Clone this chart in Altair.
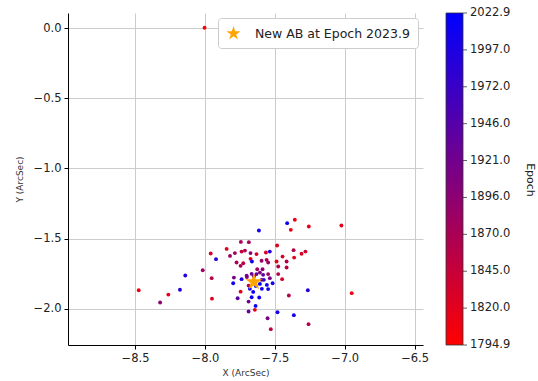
import altair as alt
import pandas as pd

# ---- data ----
x_arcsec = [
    -7.357, -7.412, -7.257, -7.386, -7.024, -7.614, -7.743, -7.686, -7.484, -7.959,
    -7.845, -7.786, -7.738, -7.714, -7.674, -7.631, -7.564, -7.536, -7.445, -7.366,
    -7.309, -7.281, -7.362, -7.921, -7.821, -7.674, -7.664, -7.774, -7.726, -7.745,
    -7.595, -7.559, -7.548, -7.488, -7.416, -7.476, -7.416, -7.588, -7.626, -8.016,
    -8.141, -7.952, -7.793, -7.738, -7.702, -7.666, -7.631, -7.607, -7.584, -7.548,
    -7.476, -7.516, -7.448, -7.798, -7.688, -7.745, -7.636, -7.593, -7.557, -7.607,
    -7.579, -7.679, -7.548, -7.655, -7.666, -7.612, -7.766, -7.688, -7.264, -7.400,
    -8.179, -8.262, -8.474, -8.321, -7.950, -6.950, -7.638, -7.643, -7.688, -7.481,
    -7.364, -7.552, -7.259, -7.529, -8.003, -7.595, -7.536, -7.700, -7.650,
]
y_arcsec = [
    -1.366, -1.390, -1.414, -1.438, -1.407, -1.443, -1.524, -1.526, -1.550, -1.607,
    -1.574, -1.604, -1.593, -1.586, -1.604, -1.611, -1.600, -1.593, -1.629, -1.583,
    -1.609, -1.593, -1.636, -1.647, -1.624, -1.645, -1.664, -1.671, -1.676, -1.695,
    -1.659, -1.652, -1.671, -1.664, -1.664, -1.700, -1.707, -1.719, -1.719, -1.726,
    -1.764, -1.783, -1.779, -1.790, -1.766, -1.752, -1.754, -1.743, -1.759, -1.754,
    -1.754, -1.819, -1.790, -1.819, -1.836, -1.879, -1.838, -1.859, -1.831, -1.824,
    -1.795, -1.859, -1.861, -1.881, -1.919, -1.921, -1.926, -1.950, -1.869, -1.907,
    -1.866, -1.900, -1.869, -1.957, -1.929, -1.890, -1.981, -2.009, -2.021, -2.026,
    -2.047, -2.069, -2.111, -2.147, 0.005, -1.795, -1.783, -1.775, -1.770,
]
epoch = [
    1815, 2010, 1820, 1812, 1818, 2005, 1870, 1875, 1825, 1830,
    1822, 1880, 1850, 1860, 1900, 1835, 1828, 1995, 1826, 1860,
    1830, 1838, 1820, 1985, 1885, 1815, 2015, 1868, 1855, 1872,
    1890, 1865, 1878, 1812, 1862, 1866, 1858, 1895, 1880, 1885,
    1990, 1858, 1915, 2000, 1920, 1925, 1930, 1910, 1935, 1880,
    1860, 2000, 1830, 2008, 1862, 1822, 2018, 2012, 2005, 2020,
    1990, 2010, 2002, 2015, 2008, 2012, 1945, 1925, 1985, 1860,
    1995, 1820, 1812, 1895, 1820, 1812, 2010, 1818, 1930, 2005,
    2008, 1910, 1865, 1855, 1800, 1940, 1915, 1905, 1912,
]

star_x = [-7.650]
star_y = [-1.810]
star_label = ["New AB at Epoch 2023.9"]

x_ticks = [-8.5, -8.0, -7.5, -7.0, -6.5]
y_ticks = [-2.0, -1.5, -1.0, -0.5, 0.0]
epoch_min, epoch_max = 1794.9, 2022.9
cbar_ticks = [1794.9, 1820.23, 1845.57, 1870.9, 1896.23, 1921.57, 1946.9, 1972.23, 1997.57, 2022.9]
cbar_labels = ["1794.9", "1820.0", "1845.0", "1870.0", "1896.0", "1921.0",
               "1946.0", "1972.0", "1997.0", "2022.9"]

FONT = "DejaVu Sans"
STAR = ("M0,-1 L0.2245,-0.309 L0.951,-0.309 L0.363,0.118 L0.588,0.809 "
        "L0,0.382 L-0.588,0.809 L-0.363,0.118 L-0.951,-0.309 L-0.2245,-0.309 Z")

pts = pd.DataFrame({"x": x_arcsec, "y": y_arcsec, "epoch": epoch})
star = pd.DataFrame({"x": star_x, "y": star_y, "label": star_label})
cbar = pd.DataFrame({"v": cbar_ticks, "lab": cbar_labels})

xscale = alt.Scale(domain=[-8.98, -6.44], nice=False, zero=False)
yscale = alt.Scale(domain=[-2.26, 0.11], nice=False, zero=False)

xaxis = alt.Axis(values=x_ticks, format=".1f", title="X (ArcSec)", titlePadding=5)
yaxis = alt.Axis(values=y_ticks, format=".1f", title="Y (ArcSec)", titlePadding=9)

scatter = alt.Chart(pts).mark_circle(size=15, opacity=1).encode(
    x=alt.X("x:Q", scale=xscale, axis=xaxis),
    y=alt.Y("y:Q", scale=yscale, axis=yaxis),
    color=alt.Color(
        "epoch:Q",
        scale=alt.Scale(domain=[epoch_min, epoch_max], range=["#ff0000", "#0000ff"],
                        interpolate="rgb"),
        legend=alt.Legend(
            title=None, orient="none", legendX=378, legendY=0, direction="vertical",
            gradientLength=332, gradientThickness=17, values=[epoch_min, epoch_max],
            labelExpr="''", labelFontSize=1, gradientStrokeColor="#333",
            gradientStrokeWidth=0.8, padding=0,
        ),
    ),
)

star_layer = alt.Chart(star).mark_point(filled=True, size=320, opacity=1,
                                         color="#FFA500").encode(
    x=alt.X("x:Q", scale=xscale, axis=xaxis),
    y=alt.Y("y:Q", scale=yscale, axis=None),
    shape=alt.Shape(
        "label:N",
        scale=alt.Scale(domain=star_label, range=[STAR]),
        legend=alt.Legend(
            title=None, orient="top-right", offset=5, fillColor="white",
            strokeColor="#cccccc", cornerRadius=3, padding=8, labelFontSize=12.5,
            labelFont=FONT, labelColor="#222", labelOffset=14, symbolSize=220,
            symbolFillColor="#FFA500", symbolStrokeColor="#FFA500",
            symbolStrokeWidth=0, symbolOpacity=1,
        ),
    ),
)

cscale = alt.Scale(domain=[epoch_min, epoch_max], nice=False, zero=False)
cbar_ticks_layer = alt.Chart(cbar).mark_rule(color="#333", strokeWidth=0.8).encode(
    x=alt.value(395), x2=alt.value(399),
    y=alt.Y("v:Q", scale=cscale, axis=None),
)
cbar_text_layer = alt.Chart(cbar).mark_text(
    align="left", baseline="middle", fontSize=11.5, font=FONT, color="#222"
).encode(
    x=alt.value(402),
    y=alt.Y("v:Q", scale=cscale, axis=None),
    text="lab:N",
)
cbar_layer = alt.layer(cbar_ticks_layer, cbar_text_layer)

epoch_title = alt.Chart(pd.DataFrame({"t": ["Epoch"]})).mark_text(
    angle=90, align="center", baseline="middle", fontSize=11, font=FONT, color="#222"
).encode(x=alt.value(462), y=alt.value(167), text="t:N")

chart = (
    alt.layer(scatter, star_layer, cbar_layer, epoch_title)
    .resolve_scale(shape="independent", y="independent")
    .properties(
        width=355, height=332,
        autosize=alt.AutoSizeParams(type="none"),
        padding={"left": 68, "top": 13, "right": 115, "bottom": 36},
    )
    .configure_view(stroke=None)
    .configure_axis(
        domainColor="black", domainWidth=1, tickColor="black", tickSize=4, tickWidth=1,
        labelFontSize=11.5, labelFont=FONT, labelColor="#222", labelPadding=3,
        titleFontSize=9, titleFont=FONT, titleColor="#333", titleFontWeight="normal",
        gridColor="#cccccc", gridWidth=1,
    )
)

chart.save("out.html", embed_options={"renderer": "svg", "actions": False})
